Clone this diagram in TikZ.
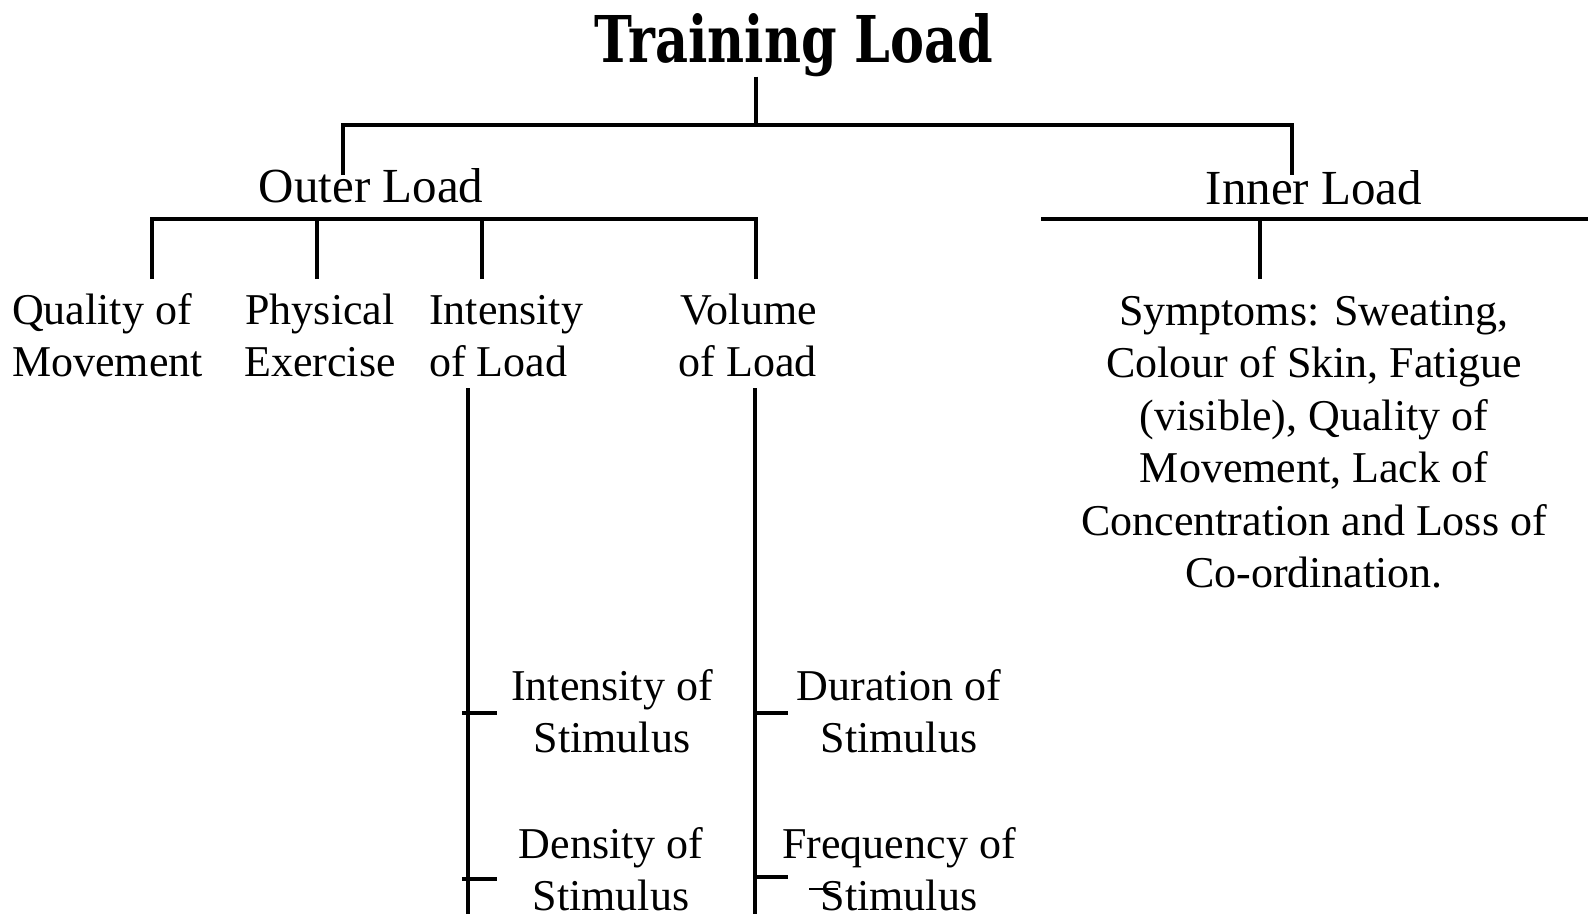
\documentclass[tikz,border=0pt]{standalone}
\usepackage{fontspec}
\setmainfont{Liberation Serif}
\newfontfamily\headfont{DejaVu Serif}[FakeStretch=0.79]
\begin{document}
\begin{tikzpicture}[x=1pt,y=-1pt]
\tikzset{
  link/.style={line width=3.2pt},
  lbl/.style={font=\fontsize{44}{52.5}\selectfont, inner sep=0pt, align=center},
  head/.style={font=\fontsize{49}{58}\selectfont, inner sep=0pt},
  title/.style={font=\headfont\bfseries\fontsize{64.5}{70}\selectfont, inner sep=0pt},
}
\useasboundingbox[fill=white] (0,0) rectangle (1591,914);

% texts (multi-line nodes are placed by the baseline of their last line)
\node[title, anchor=base] (tl) at (793.5,62) {Training Load};
\node[head, anchor=base] (outer) at (371,202) {Outer Load};
\node[head, anchor=base] (inner) at (1314,204) {Inner Load};

\node[lbl, align=left, anchor=base west] (qual) at (12,376.5) {Quality of\\Movement};
\node[lbl, anchor=base] (phys) at (320,376.5) {Physical\\Exercise};
\node[lbl, align=left, anchor=base west] (intl) at (429,376.5) {Intensity\\of Load};
\node[lbl, align=right, anchor=base east] (voll) at (817,376.5) {Volume\\of Load};

\node[lbl, anchor=base] (symp) at (1314,587.5) {Symptoms: Sweating,\\Colour of Skin, Fatigue\\(visible), Quality of\\Movement, Lack of\\Concentration and Loss of\\Co-ordination.};

\node[lbl, anchor=base] (ints) at (612,752.5) {Intensity of\\Stimulus};
\node[lbl, anchor=base] (dens) at (611,910.5) {Density of\\Stimulus};
\node[lbl, anchor=base] (durs) at (899,752.5) {Duration of\\Stimulus};
\node[lbl, anchor=base] (freq) at (899,910.5) {Frequency of\\Stimulus};

% top level
\coordinate (tb) at (756,125);
\coordinate (ol) at (343,175);
\coordinate (il) at (1292,175);
\draw[link] (tl.south -| tb) -- (tb);
\draw[link] (ol) |- (tb) -| (il);

% outer load branches
\coordinate (ob1) at (152,219);
\coordinate (ob4) at (756,219);
\coordinate (d1) at (152,279);
\coordinate (d2) at (317,279);
\coordinate (d3) at (482,279);
\coordinate (d4) at (756,279);
\draw[link] (d1) -- (ob1) -- (ob4) -- (d4);
\draw[link] (d2) -- (d2 |- ob1);
\draw[link] (d3) -- (d3 |- ob1);

% inner load branch
\coordinate (ib1) at (1041,219);
\coordinate (ib2) at (1588,219);
\coordinate (d5) at (1260,279);
\draw[link] (ib1) -- (ib2);
\draw[link] (d5) -- (d5 |- ib1);

% stems below intensity and volume
\coordinate (v1t) at (468,388);
\coordinate (v1b) at (468,914);
\coordinate (v2t) at (755,388);
\coordinate (v2b) at (755,914);
\draw[link] (v1t) -- (v1b);
\draw[link] (v2t) -- (v2b);

% ticks towards the sub-items
\draw[link] (462,713) -- (497,713);
\draw[link] (462,879) -- (497,879);
\draw[link] (755,713) -- (788,713);
\draw[link] (755,877) -- (788,877);
\draw[line width=2.5pt] (809,889) -- (838,889);
\end{tikzpicture}
\end{document}
